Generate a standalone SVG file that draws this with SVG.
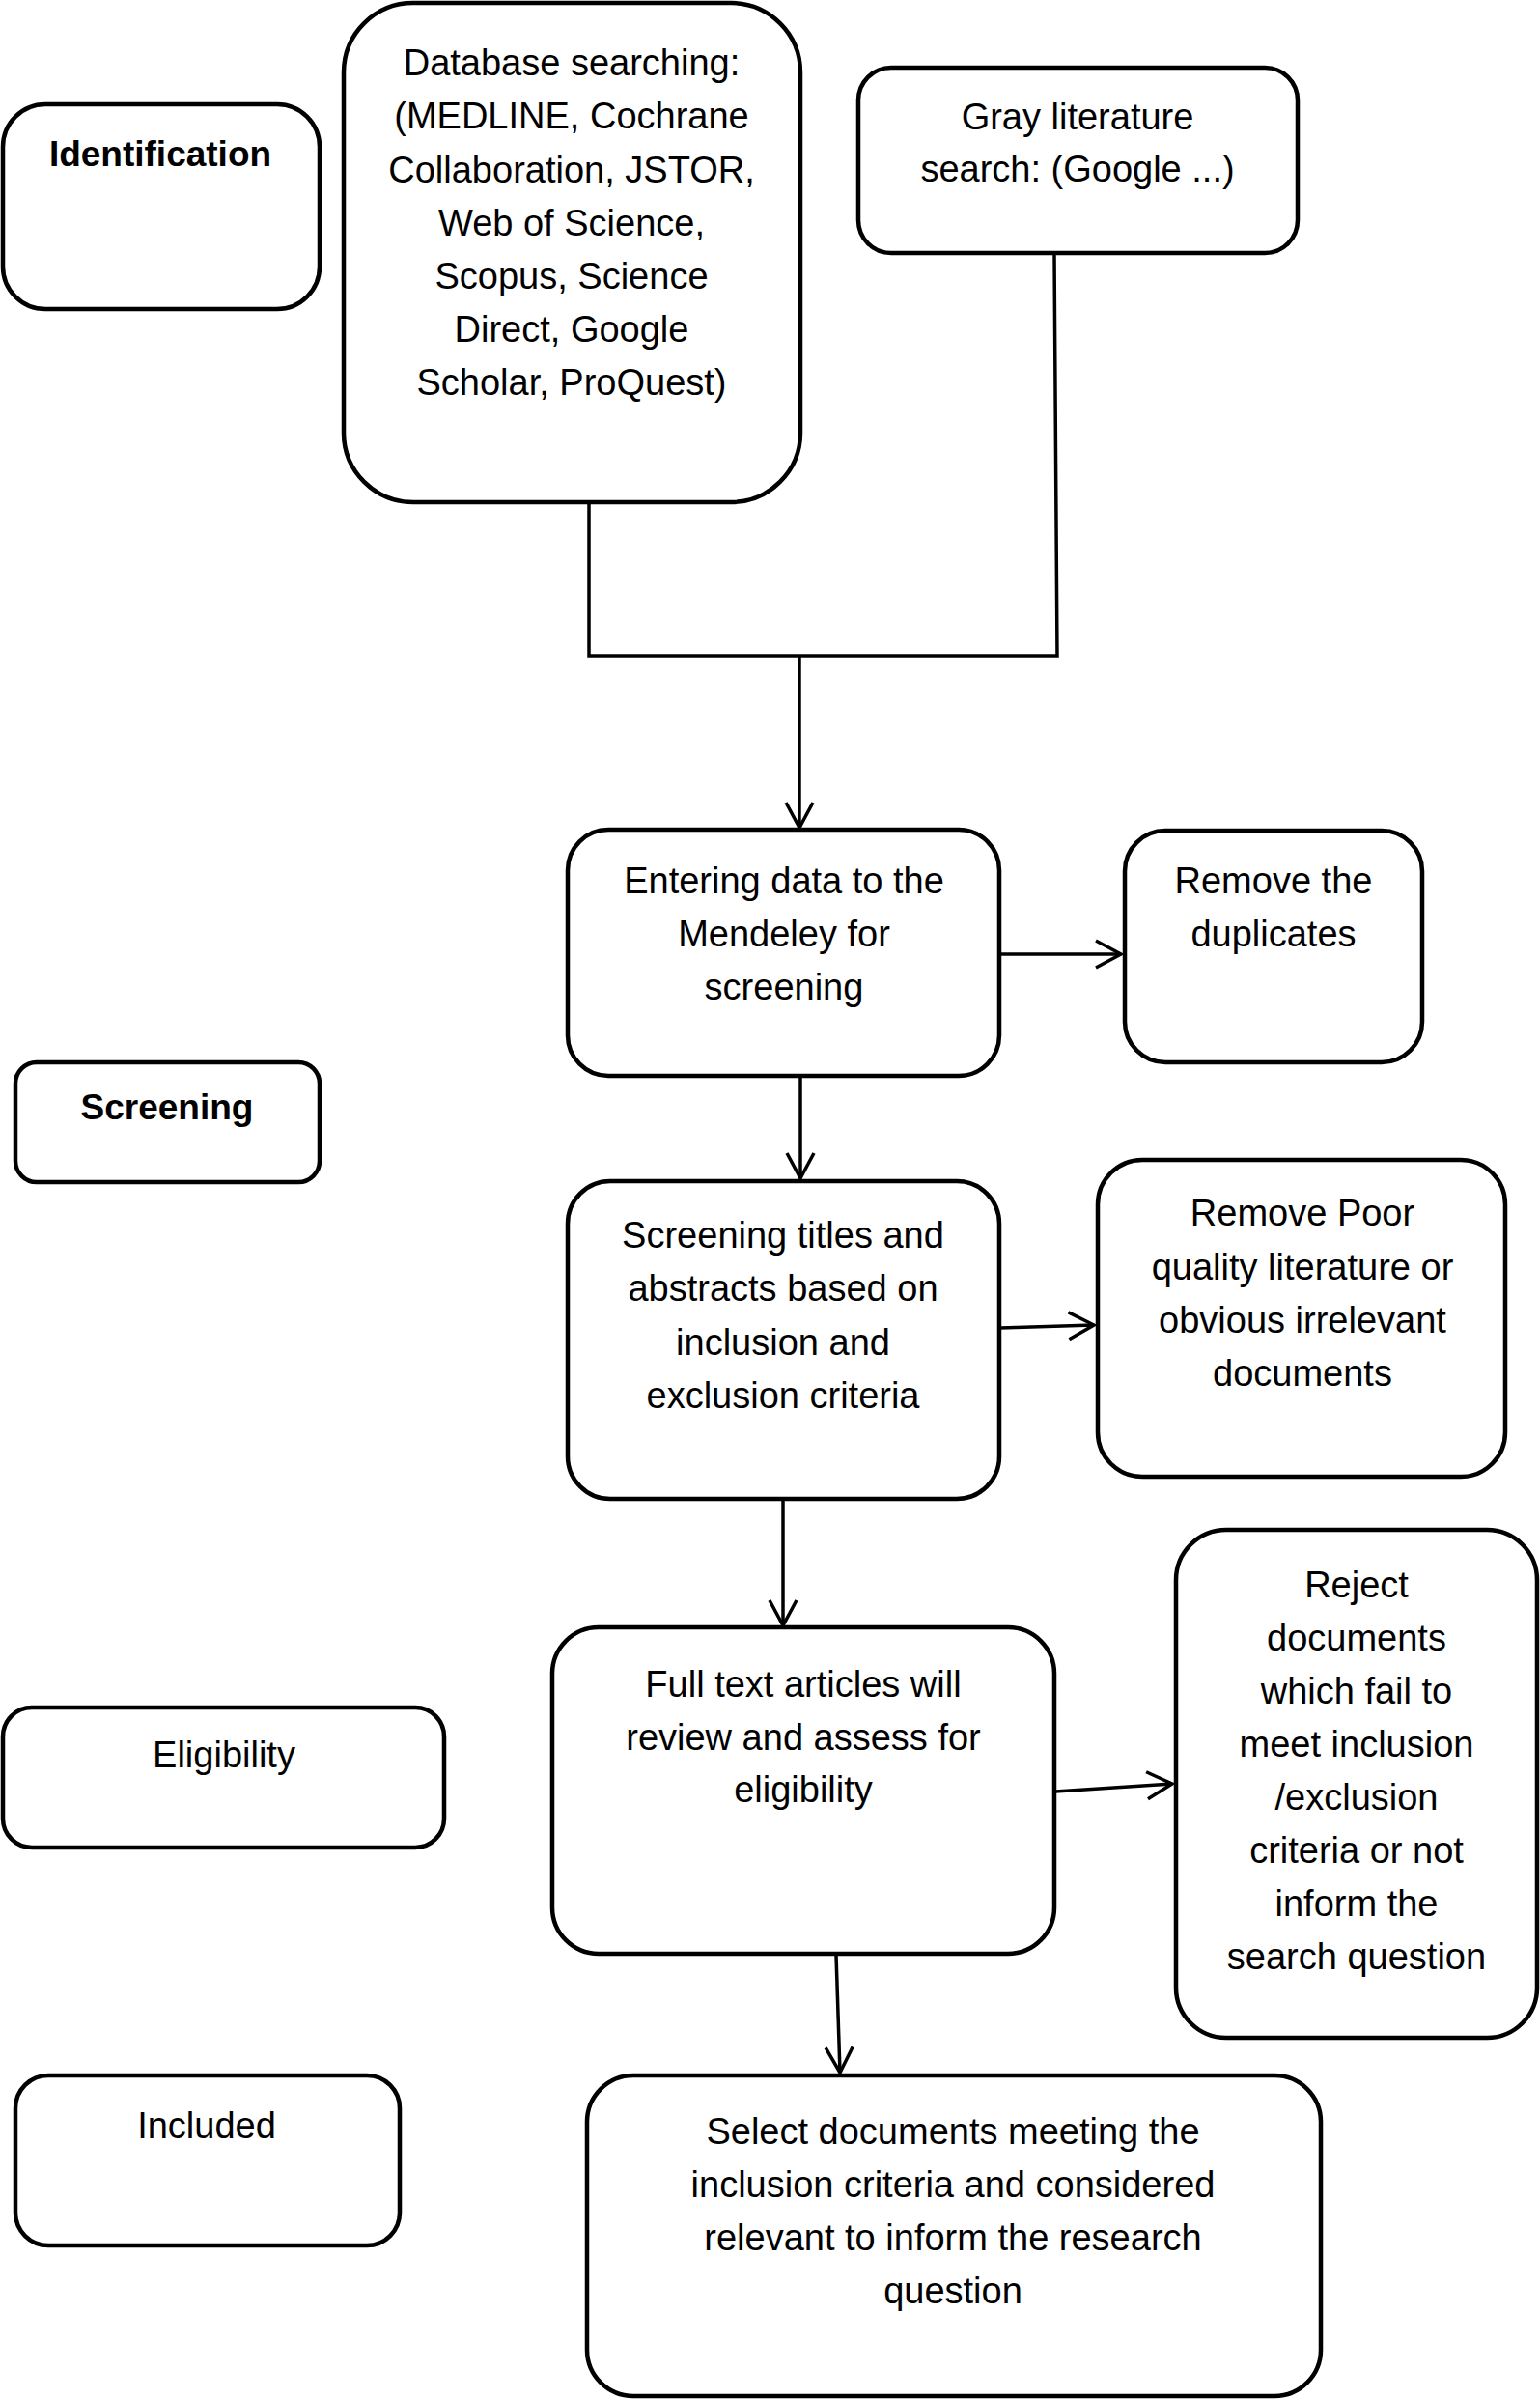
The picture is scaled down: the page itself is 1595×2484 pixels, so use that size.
<svg xmlns="http://www.w3.org/2000/svg" width="1595" height="2484" viewBox="0 0 1595 2484">
<style>
.box{fill:#fff;stroke:#000;stroke-width:4.5}
.t{font-family:"Liberation Sans",Arial,sans-serif;font-size:38px;fill:#000;text-anchor:middle}
.b{font-weight:bold;font-size:37px}
.c{fill:none;stroke:#000;stroke-width:3.5}
</style>
<defs>
<marker id="ah" markerUnits="userSpaceOnUse" markerWidth="40" markerHeight="40" viewBox="-30 -20 40 40" refX="0" refY="0" orient="auto">
<path d="M-26,-14 L0,0 L-26,14" fill="none" stroke="#000" stroke-width="3.5"/>
</marker>
</defs>
<rect width="1595" height="2484" fill="#fff"/>
<g id="connectors">
<polyline class="c" points="610,520 610,679 1095,679 1092,262"/>
<line class="c" x1="828" y1="679" x2="828" y2="857" marker-end="url(#ah)"/>
<line class="c" x1="1036" y1="988" x2="1161" y2="988" marker-end="url(#ah)"/>
<line class="c" x1="829" y1="1115" x2="829" y2="1220" marker-end="url(#ah)"/>
<line class="c" x1="1036" y1="1375" x2="1133" y2="1372" marker-end="url(#ah)"/>
<line class="c" x1="811" y1="1553" x2="811" y2="1683" marker-end="url(#ah)"/>
<line class="c" x1="1093" y1="1855" x2="1214" y2="1847" marker-end="url(#ah)"/>
<line class="c" x1="866" y1="2024" x2="870" y2="2146" marker-end="url(#ah)"/>
</g>
<g id="identification">
<rect class="box" x="3" y="108" width="328" height="212" rx="44"/>
<text class="t b" x="166" y="172">Identification</text>
</g>
<g id="database">
<rect class="box" x="356" y="3" width="473" height="517" rx="72"/>
<text class="t" x="592" y="78">Database searching:</text>
<text class="t" x="592" y="133">(MEDLINE, Cochrane</text>
<text class="t" x="592" y="189">Collaboration, JSTOR,</text>
<text class="t" x="592" y="244">Web of Science,</text>
<text class="t" x="592" y="299">Scopus, Science</text>
<text class="t" x="592" y="354">Direct, Google</text>
<text class="t" x="592" y="409">Scholar, ProQuest)</text>
</g>
<g id="gray">
<rect class="box" x="889" y="70" width="455" height="192" rx="34"/>
<text class="t" x="1116" y="134">Gray literature</text>
<text class="t" x="1116" y="188">search: (Google ...)</text>
</g>
<g id="entering">
<rect class="box" x="588" y="859" width="447" height="255" rx="42"/>
<text class="t" x="812" y="925">Entering data to the</text>
<text class="t" x="812" y="980">Mendeley for</text>
<text class="t" x="812" y="1035">screening</text>
</g>
<g id="duplicates">
<rect class="box" x="1165" y="860" width="308" height="240" rx="42"/>
<text class="t" x="1319" y="925">Remove the</text>
<text class="t" x="1319" y="980">duplicates</text>
</g>
<g id="screening-label">
<rect class="box" x="16" y="1100" width="315" height="124" rx="22"/>
<text class="t b" x="173" y="1159">Screening</text>
</g>
<g id="screening">
<rect class="box" x="588" y="1223" width="447" height="329" rx="44"/>
<text class="t" x="811" y="1292">Screening titles and</text>
<text class="t" x="811" y="1347">abstracts based on</text>
<text class="t" x="811" y="1403">inclusion and</text>
<text class="t" x="811" y="1458">exclusion criteria</text>
</g>
<g id="poor">
<rect class="box" x="1137" y="1201" width="422" height="328" rx="46"/>
<text class="t" x="1349" y="1269">Remove Poor</text>
<text class="t" x="1349" y="1325">quality literature or</text>
<text class="t" x="1349" y="1380">obvious irrelevant</text>
<text class="t" x="1349" y="1435">documents</text>
</g>
<g id="eligibility-label">
<rect class="box" x="3" y="1768" width="457" height="145" rx="30"/>
<text class="t" x="232" y="1830">Eligibility</text>
</g>
<g id="fulltext">
<rect class="box" x="572" y="1685" width="520" height="338" rx="48"/>
<text class="t" x="832" y="1757">Full text articles will</text>
<text class="t" x="832" y="1812">review and assess for</text>
<text class="t" x="832" y="1866">eligibility</text>
</g>
<g id="reject">
<rect class="box" x="1218" y="1584" width="374" height="526" rx="52"/>
<text class="t" x="1405" y="1654">Reject</text>
<text class="t" x="1405" y="1709">documents</text>
<text class="t" x="1405" y="1764">which fail to</text>
<text class="t" x="1405" y="1819">meet inclusion</text>
<text class="t" x="1405" y="1874">/exclusion</text>
<text class="t" x="1405" y="1929">criteria or not</text>
<text class="t" x="1405" y="1984">inform the</text>
<text class="t" x="1405" y="2039">search question</text>
</g>
<g id="included-label">
<rect class="box" x="16" y="2149" width="398" height="176" rx="34"/>
<text class="t" x="214" y="2214">Included</text>
</g>
<g id="select">
<rect class="box" x="608" y="2149" width="760" height="332" rx="48"/>
<text class="t" x="987" y="2220">Select documents meeting the</text>
<text class="t" x="987" y="2275">inclusion criteria and considered</text>
<text class="t" x="987" y="2330">relevant to inform the research</text>
<text class="t" x="987" y="2385">question</text>
</g>
</svg>
